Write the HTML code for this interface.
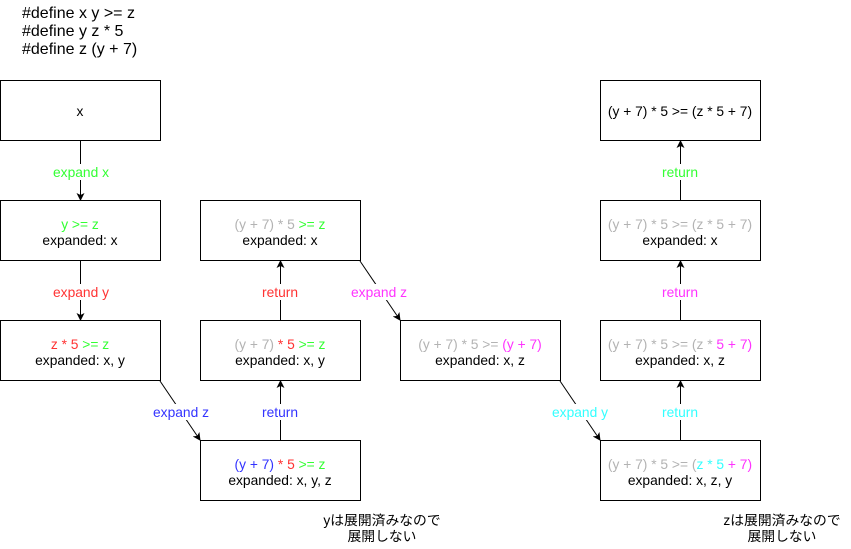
<!DOCTYPE html>
<html><head><meta charset="utf-8"><style>
body{margin:0;background:#fff;}
svg text{font-family:"Liberation Sans","Noto Sans CJK JP",sans-serif;font-size:13.8px;}
</style></head><body>
<svg width="851" height="544" xmlns="http://www.w3.org/2000/svg">
<defs><marker id="a" markerWidth="8" markerHeight="8" refX="7" refY="4" orient="auto" markerUnits="userSpaceOnUse"><path d="M0,0 L8,4 L0,8 L2,4 Z" fill="#000"/></marker></defs>
<g fill="#000"><text x="22" y="18" style="font-size:16px">#define x y &gt;= z</text><text x="22" y="36" style="font-size:16px">#define y z * 5</text><text x="22" y="54" style="font-size:16px">#define z (y + 7)</text></g>
<g fill="#fff" stroke="#000" stroke-width="1">
<rect x="0.5" y="80.5" width="160" height="60"/>
<rect x="0.5" y="200.5" width="160" height="60"/>
<rect x="0.5" y="320.5" width="160" height="60"/>
<rect x="200.5" y="440.5" width="160" height="60"/>
<rect x="200.5" y="320.5" width="160" height="60"/>
<rect x="200.5" y="200.5" width="160" height="60"/>
<rect x="400.5" y="320.5" width="160" height="60"/>
<rect x="600.5" y="440.5" width="160" height="60"/>
<rect x="600.5" y="320.5" width="160" height="60"/>
<rect x="600.5" y="200.5" width="160" height="60"/>
<rect x="600.5" y="80.5" width="160" height="60"/>
</g>
<g stroke="#000" stroke-width="1" fill="none">
<line x1="80.5" y1="141" x2="80.5" y2="200" marker-end="url(#a)"/>
<line x1="80.5" y1="261" x2="80.5" y2="320" marker-end="url(#a)"/>
<line x1="160" y1="381" x2="200" y2="440" marker-end="url(#a)"/>
<line x1="280.5" y1="440" x2="280.5" y2="381" marker-end="url(#a)"/>
<line x1="280.5" y1="320" x2="280.5" y2="261" marker-end="url(#a)"/>
<line x1="360" y1="261" x2="400" y2="320" marker-end="url(#a)"/>
<line x1="560" y1="381" x2="600" y2="440" marker-end="url(#a)"/>
<line x1="680.5" y1="440" x2="680.5" y2="381" marker-end="url(#a)"/>
<line x1="680.5" y1="320" x2="680.5" y2="261" marker-end="url(#a)"/>
<line x1="680.5" y1="200" x2="680.5" y2="141" marker-end="url(#a)"/>
</g>
<g text-anchor="middle">
<rect x="48" y="164" width="66" height="16" fill="#fff"/><text x="81" y="177" fill="#33ff33">expand x</text>
<rect x="48" y="284" width="66" height="16" fill="#fff"/><text x="81" y="297" fill="#ff3333">expand y</text>
<rect x="148" y="404" width="66" height="16" fill="#fff"/><text x="181" y="417" fill="#3333ff">expand z</text>
<rect x="256" y="404" width="48" height="16" fill="#fff"/><text x="280" y="417" fill="#3333ff">return</text>
<rect x="256" y="284" width="48" height="16" fill="#fff"/><text x="280" y="297" fill="#ff3333">return</text>
<rect x="346" y="284" width="66" height="16" fill="#fff"/><text x="379" y="297" fill="#ff33ff">expand z</text>
<rect x="547" y="404" width="66" height="16" fill="#fff"/><text x="580" y="417" fill="#33ffff">expand y</text>
<rect x="656" y="404" width="48" height="16" fill="#fff"/><text x="680" y="417" fill="#33ffff">return</text>
<rect x="656" y="284" width="48" height="16" fill="#fff"/><text x="680" y="297" fill="#ff33ff">return</text>
<rect x="656" y="164" width="48" height="16" fill="#fff"/><text x="680" y="177" fill="#33ff33">return</text>

<text x="80" y="116">x</text>
<text x="80" y="229" fill="#33ff33">y &gt;= z</text><text x="80" y="245">expanded: x</text>
<text x="80" y="349"><tspan fill="#ff3333">z * 5 </tspan><tspan fill="#33ff33">&gt;= z</tspan></text><text x="80" y="365">expanded: x, y</text>
<text x="280" y="469"><tspan fill="#3333ff">(y + 7) </tspan><tspan fill="#ff3333">* 5 </tspan><tspan fill="#33ff33">&gt;= z</tspan></text><text x="280" y="485">expanded: x, y, z</text>
<text x="280" y="349"><tspan fill="#b3b3b3">(y + 7) </tspan><tspan fill="#ff3333">* 5 </tspan><tspan fill="#33ff33">&gt;= z</tspan></text><text x="280" y="365">expanded: x, y</text>
<text x="280" y="229"><tspan fill="#b3b3b3">(y + 7) * 5 </tspan><tspan fill="#33ff33">&gt;= z</tspan></text><text x="280" y="245">expanded: x</text>
<text x="480" y="349"><tspan fill="#b3b3b3">(y + 7) * 5 &gt;= </tspan><tspan fill="#ff33ff">(y + 7)</tspan></text><text x="480" y="365">expanded: x, z</text>
<text x="680" y="469"><tspan fill="#b3b3b3">(y + 7) * 5 &gt;= (</tspan><tspan fill="#33ffff">z * 5 </tspan><tspan fill="#ff33ff">+ 7)</tspan></text><text x="680" y="485">expanded: x, z, y</text>
<text x="680" y="349"><tspan fill="#b3b3b3">(y + 7) * 5 &gt;= (z * </tspan><tspan fill="#ff33ff">5 + 7)</tspan></text><text x="680" y="365">expanded: x, z</text>
<text x="680" y="229" fill="#b3b3b3">(y + 7) * 5 &gt;= (z * 5 + 7)</text><text x="680" y="245">expanded: x</text>
<text x="680" y="116">(y + 7) * 5 &gt;= (z * 5 + 7)</text>
<text x="382" y="525">yは展開済みなので</text><text x="382" y="541">展開しない</text>
<text x="782" y="525">zは展開済みなので</text><text x="782" y="541">展開しない</text>
</g>
</svg>
</body></html>
